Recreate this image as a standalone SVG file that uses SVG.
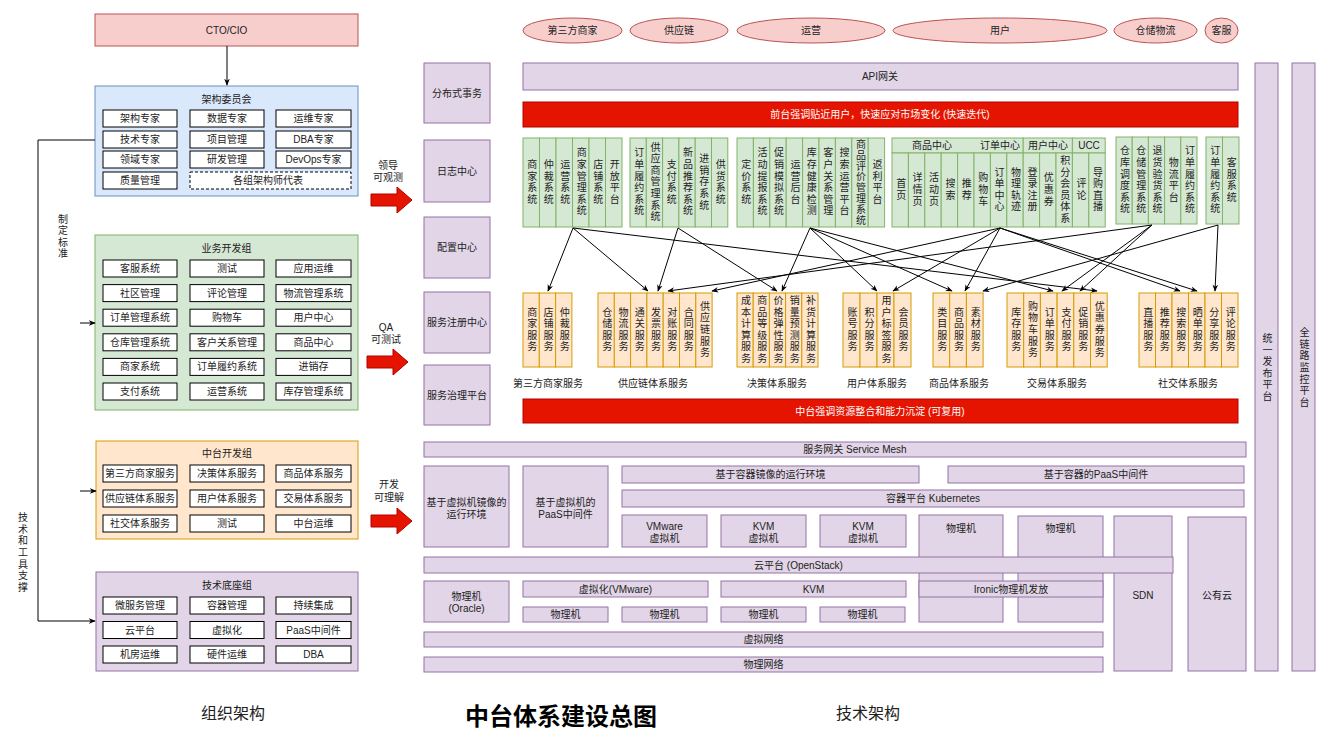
<svg xmlns="http://www.w3.org/2000/svg" width="1333" height="750" viewBox="0 0 1333 750">
<style>
text{font-family:"Liberation Sans","Noto Sans CJK SC",sans-serif;font-size:10px;fill:#222;text-anchor:middle;dominant-baseline:central}
.p{fill:#e1d5e7;stroke:#9673a6}
.g{fill:#d5e8d4;stroke:#82b366}
.o{fill:#ffe6cc;stroke:#d79b00}
.b{fill:#dae8fc;stroke:#6c8ebf}
.r{fill:#f8cecc;stroke:#b85450}
.w{fill:#fff;stroke:#000}
.wd{fill:#fff;stroke:#000;stroke-dasharray:3 2}
.rb{fill:#e51400;stroke:#b20000}
.wt{fill:#fff}
.vt{writing-mode:vertical-rl;letter-spacing:1.6px}
.ln{fill:none;stroke:#000;stroke-width:1}
.big{font-size:16px}
.title{font-size:24px;font-weight:bold;fill:#000}
</style>
<defs>
<marker id="ah" viewBox="0 0 10 10" refX="9" refY="5" markerWidth="7" markerHeight="7" orient="auto-start-reverse" markerUnits="userSpaceOnUse"><path d="M0,1 L10,5 L0,9 L3,5 Z" fill="#000"/></marker>
</defs>

<!-- LEFT: organisation -->
<g id="cto"><rect class="r" x="95" y="14" width="263" height="32"/><text x="226.5" y="30">CTO/CIO</text></g>
<g id="arch-committee">
<rect class="b" x="95" y="86" width="263" height="110"/><text x="226.5" y="99">架构委员会</text>
<rect class="w" x="103" y="110" width="74" height="17"/><text x="140" y="118.5">架构专家</text>
<rect class="w" x="190" y="110" width="74" height="17"/><text x="227" y="118.5">数据专家</text>
<rect class="w" x="276" y="110" width="75" height="17"/><text x="313.5" y="118.5">运维专家</text>
<rect class="w" x="103" y="131" width="74" height="17"/><text x="140" y="139.5">技术专家</text>
<rect class="w" x="190" y="131" width="74" height="17"/><text x="227" y="139.5">项目管理</text>
<rect class="w" x="276" y="131" width="75" height="17"/><text x="313.5" y="139.5">DBA专家</text>
<rect class="w" x="103" y="151" width="74" height="17"/><text x="140" y="159.5">领域专家</text>
<rect class="w" x="190" y="151" width="74" height="17"/><text x="227" y="159.5">研发管理</text>
<rect class="w" x="276" y="151" width="75" height="17"/><text x="313.5" y="159.5">DevOps专家</text>
<rect class="w" x="103" y="172" width="74" height="17"/><text x="140" y="180.5">质量管理</text>
<rect class="wd" x="190" y="172" width="161" height="17"/><text x="268" y="180.5">各组架构师代表</text>
</g>
<g id="biz-dev">
<rect class="g" x="95" y="235" width="263" height="175"/><text x="226.5" y="248">业务开发组</text>
<rect class="w" x="103" y="260" width="74" height="17"/><text x="140" y="268.5">客服系统</text>
<rect class="w" x="190" y="260" width="74" height="17"/><text x="227" y="268.5">测试</text>
<rect class="w" x="276" y="260" width="75" height="17"/><text x="313.5" y="268.5">应用运维</text>
<rect class="w" x="103" y="284.6" width="74" height="17"/><text x="140" y="293.1">社区管理</text>
<rect class="w" x="190" y="284.6" width="74" height="17"/><text x="227" y="293.1">评论管理</text>
<rect class="w" x="276" y="284.6" width="75" height="17"/><text x="313.5" y="293.1">物流管理系统</text>
<rect class="w" x="103" y="309.2" width="74" height="17"/><text x="140" y="317.7">订单管理系统</text>
<rect class="w" x="190" y="309.2" width="74" height="17"/><text x="227" y="317.7">购物车</text>
<rect class="w" x="276" y="309.2" width="75" height="17"/><text x="313.5" y="317.7">用户中心</text>
<rect class="w" x="103" y="333.8" width="74" height="17"/><text x="140" y="342.3">仓库管理系统</text>
<rect class="w" x="190" y="333.8" width="74" height="17"/><text x="227" y="342.3">客户关系管理</text>
<rect class="w" x="276" y="333.8" width="75" height="17"/><text x="313.5" y="342.3">商品中心</text>
<rect class="w" x="103" y="358.4" width="74" height="17"/><text x="140" y="366.9">商家系统</text>
<rect class="w" x="190" y="358.4" width="74" height="17"/><text x="227" y="366.9">订单履约系统</text>
<rect class="w" x="276" y="358.4" width="75" height="17"/><text x="313.5" y="366.9">进销存</text>
<rect class="w" x="103" y="383" width="74" height="17"/><text x="140" y="391.5">支付系统</text>
<rect class="w" x="190" y="383" width="74" height="17"/><text x="227" y="391.5">运营系统</text>
<rect class="w" x="276" y="383" width="75" height="17"/><text x="313.5" y="391.5">库存管理系统</text>
</g>
<g id="mid-dev">
<rect class="o" x="96" y="441" width="262" height="98"/><text x="227" y="453">中台开发组</text>
<rect class="w" x="103" y="465" width="74" height="17"/><text x="140" y="473.5">第三方商家服务</text>
<rect class="w" x="190" y="465" width="74" height="17"/><text x="227" y="473.5">决策体系服务</text>
<rect class="w" x="276" y="465" width="75" height="17"/><text x="313.5" y="473.5">商品体系服务</text>
<rect class="w" x="103" y="490" width="74" height="17"/><text x="140" y="498.5">供应链体系服务</text>
<rect class="w" x="190" y="490" width="74" height="17"/><text x="227" y="498.5">用户体系服务</text>
<rect class="w" x="276" y="490" width="75" height="17"/><text x="313.5" y="498.5">交易体系服务</text>
<rect class="w" x="103" y="515" width="74" height="17"/><text x="140" y="523.5">社交体系服务</text>
<rect class="w" x="190" y="515" width="74" height="17"/><text x="227" y="523.5">测试</text>
<rect class="w" x="276" y="515" width="75" height="17"/><text x="313.5" y="523.5">中台运维</text>
</g>
<g id="tech-base">
<rect class="p" x="96" y="572" width="262" height="99"/><text x="227" y="585">技术底座组</text>
<rect class="w" x="103" y="597" width="74" height="17"/><text x="140" y="605.5">微服务管理</text>
<rect class="w" x="190" y="597" width="74" height="17"/><text x="227" y="605.5">容器管理</text>
<rect class="w" x="276" y="597" width="75" height="17"/><text x="313.5" y="605.5">持续集成</text>
<rect class="w" x="103" y="621.5" width="74" height="17"/><text x="140" y="630">云平台</text>
<rect class="w" x="190" y="621.5" width="74" height="17"/><text x="227" y="630">虚拟化</text>
<rect class="w" x="276" y="621.5" width="75" height="17"/><text x="313.5" y="630">PaaS中间件</text>
<rect class="w" x="103" y="646" width="74" height="17"/><text x="140" y="654.5">机房运维</text>
<rect class="w" x="190" y="646" width="74" height="17"/><text x="227" y="654.5">硬件运维</text>
<rect class="w" x="276" y="646" width="75" height="17"/><text x="313.5" y="654.5">DBA</text>
</g>
<g id="left-labels">
<text class="vt" x="62" y="237">制定标准</text>
<text class="vt" x="22" y="553">技术和工具支撑</text>
</g>

<!-- red block arrows -->
<g id="arrow-observe"><polygon class="rb" points="371,194 397,194 397,187 412,200 397,213 397,206 371,206"/><text x="388" y="165">领导</text><text x="388" y="177">可观测</text></g>
<g id="arrow-test"><polygon class="rb" points="367,356 393,356 393,349 408,362 393,375 393,368 367,368"/><text x="386" y="327">QA</text><text x="386" y="339">可测试</text></g>
<g id="arrow-understand"><polygon class="rb" points="371,515 397,515 397,508 412,521 397,534 397,527 371,527"/><text x="389" y="484">开发</text><text x="389" y="497">可理解</text></g>

<!-- tech column -->
<g id="dist-tx"><rect class="p" x="424" y="63" width="66" height="60"/><text x="457" y="93">分布式事务</text></g>
<g id="log-center"><rect class="p" x="424" y="140" width="66" height="62"/><text x="457" y="171">日志中心</text></g>
<g id="config-center"><rect class="p" x="424" y="217" width="66" height="61"/><text x="457" y="247.5">配置中心</text></g>
<g id="registry"><rect class="p" x="424" y="292" width="66" height="61"/><text x="457" y="322.5">服务注册中心</text></g>
<g id="governance"><rect class="p" x="424" y="365" width="66" height="60"/><text x="457" y="395">服务治理平台</text></g>

<!-- top ellipses -->
<g id="e-merchant"><ellipse class="r" cx="572.5" cy="30.5" rx="49.5" ry="12.5"/><text x="572.5" y="30.5">第三方商家</text></g>
<g id="e-supply"><ellipse class="r" cx="679" cy="30.5" rx="49" ry="12.5"/><text x="679" y="30.5">供应链</text></g>
<g id="e-ops"><ellipse class="r" cx="811" cy="30.5" rx="74" ry="12.5"/><text x="811" y="30.5">运营</text></g>
<g id="e-user"><ellipse class="r" cx="1000" cy="30.5" rx="107" ry="12.5"/><text x="1000" y="30.5">用户</text></g>
<g id="e-logistics"><ellipse class="r" cx="1155.5" cy="30.5" rx="41.5" ry="12.5"/><text x="1155.5" y="30.5">仓储物流</text></g>
<g id="e-cs"><ellipse class="r" cx="1221.5" cy="30.5" rx="16.5" ry="12.5"/><text x="1221.5" y="30.5">客服</text></g>

<g id="api-gw"><rect class="p" x="523" y="63" width="715" height="27"/><text x="880" y="76.5">API网关</text></g>
<g id="front-bar"><rect class="rb" x="523" y="102" width="715" height="25"/><text class="wt" x="880" y="114.5">前台强调贴近用户，快速应对市场变化 (快速迭代)</text></g>

<!-- front systems -->
<g id="sys-merchant">
<rect class="g" x="523" y="138" width="16.5" height="89"/><text class="vt" x="531.25" y="182.5">商家系统</text>
<rect class="g" x="539.5" y="138" width="16.5" height="89"/><text class="vt" x="547.75" y="182.5">仲裁系统</text>
<rect class="g" x="556" y="138" width="16.5" height="89"/><text class="vt" x="564.25" y="182.5">运营系统</text>
<rect class="g" x="572.5" y="138" width="16.5" height="89"/><text class="vt" x="580.75" y="182.5">商家管理系统</text>
<rect class="g" x="589" y="138" width="16.5" height="89"/><text class="vt" x="597.25" y="182.5">店铺系统</text>
<rect class="g" x="605.5" y="138" width="16.5" height="89"/><text class="vt" x="613.75" y="182.5">开放平台</text>
</g>
<g id="sys-supply">
<rect class="g" x="630" y="138" width="16.3" height="89"/><text class="vt" x="638.15" y="182.5">订单履约系统</text>
<rect class="g" x="646.3" y="138" width="16.3" height="89"/><text class="vt" x="654.45" y="182.5">供应商管理系统</text>
<rect class="g" x="662.6" y="138" width="16.3" height="89"/><text class="vt" x="670.75" y="182.5">支付系统</text>
<rect class="g" x="678.9" y="138" width="16.3" height="89"/><text class="vt" x="687.05" y="182.5">新品推荐系统</text>
<rect class="g" x="695.2" y="138" width="16.3" height="89"/><text class="vt" x="703.35" y="182.5">进销存系统</text>
<rect class="g" x="711.5" y="138" width="16.3" height="89"/><text class="vt" x="719.65" y="182.5">供货系统</text>
</g>
<g id="sys-ops">
<rect class="g" x="737" y="138" width="16.4" height="89"/><text class="vt" x="745.2" y="182.5">定价系统</text>
<rect class="g" x="753.4" y="138" width="16.4" height="89"/><text class="vt" x="761.6" y="182.5">活动提报系统</text>
<rect class="g" x="769.8" y="138" width="16.4" height="89"/><text class="vt" x="778" y="182.5">促销模拟系统</text>
<rect class="g" x="786.2" y="138" width="16.4" height="89"/><text class="vt" x="794.4" y="182.5">运营后台</text>
<rect class="g" x="802.6" y="138" width="16.4" height="89"/><text class="vt" x="810.8" y="182.5">库存健康检测</text>
<rect class="g" x="819" y="138" width="16.4" height="89"/><text class="vt" x="827.2" y="182.5">客户关系管理</text>
<rect class="g" x="835.4" y="138" width="16.4" height="89"/><text class="vt" x="843.6" y="182.5">搜索运营平台</text>
<rect class="g" x="851.8" y="138" width="16.4" height="89"/><text class="vt" x="860" y="182.5" style="letter-spacing:0.8px">商品评价管理系统</text>
<rect class="g" x="868.2" y="138" width="16.4" height="89"/><text class="vt" x="876.4" y="182.5">返利平台</text>
</g>
<g id="sys-user">
<rect class="g" x="892" y="138" width="131.2" height="15"/>
<rect class="g" x="1023.2" y="138" width="49.2" height="15"/>
<rect class="g" x="1072.4" y="138" width="32.8" height="15"/>
<text x="932" y="145.5">商品中心</text><text x="1000" y="145.5">订单中心</text><text x="1048" y="145.5">用户中心</text><text x="1089" y="145.5">UCC</text>
<rect class="g" x="892" y="153" width="16.4" height="74"/><text class="vt" x="900.2" y="190">首页</text>
<rect class="g" x="908.4" y="153" width="16.4" height="74"/><text class="vt" x="916.6" y="190">详情页</text>
<rect class="g" x="924.8" y="153" width="16.4" height="74"/><text class="vt" x="933" y="190">活动页</text>
<rect class="g" x="941.2" y="153" width="16.4" height="74"/><text class="vt" x="949.4" y="190">搜索</text>
<rect class="g" x="957.6" y="153" width="16.4" height="74"/><text class="vt" x="965.8" y="190">推荐</text>
<rect class="g" x="974" y="153" width="16.4" height="74"/><text class="vt" x="982.2" y="190">购物车</text>
<rect class="g" x="990.4" y="153" width="16.4" height="74"/><text class="vt" x="998.6" y="190">订单中心</text>
<rect class="g" x="1006.8" y="153" width="16.4" height="74"/><text class="vt" x="1015" y="190">物理轨迹</text>
<rect class="g" x="1023.2" y="153" width="16.4" height="74"/><text class="vt" x="1031.4" y="190">登录注册</text>
<rect class="g" x="1039.6" y="153" width="16.4" height="74"/><text class="vt" x="1047.8" y="190">优惠券</text>
<rect class="g" x="1056" y="153" width="16.4" height="74"/><text class="vt" x="1064.2" y="190">积分会员体系</text>
<rect class="g" x="1072.4" y="153" width="16.4" height="74"/><text class="vt" x="1080.6" y="190">评论</text>
<rect class="g" x="1088.8" y="153" width="16.4" height="74"/><text class="vt" x="1097" y="190">导购直播</text>
</g>
<g id="sys-logistics">
<rect class="g" x="1116" y="137" width="16.2" height="87"/><text class="vt" x="1124.1" y="180.5">仓库调度系统</text>
<rect class="g" x="1132.2" y="137" width="16.2" height="87"/><text class="vt" x="1140.3" y="180.5">仓储管理系统</text>
<rect class="g" x="1148.4" y="137" width="16.2" height="87"/><text class="vt" x="1156.5" y="180.5">退货验货系统</text>
<rect class="g" x="1164.6" y="137" width="16.2" height="87"/><text class="vt" x="1172.7" y="180.5">物流平台</text>
<rect class="g" x="1180.8" y="137" width="16.2" height="87"/><text class="vt" x="1188.9" y="180.5">订单履约系统</text>
</g>
<g id="sys-cs">
<rect class="g" x="1206" y="137" width="16.5" height="87"/><text class="vt" x="1214.25" y="180.5">订单履约系统</text>
<rect class="g" x="1222.5" y="137" width="16.5" height="87"/><text class="vt" x="1230.75" y="180.5">客服系统</text>
</g>

<!-- connectors -->
<g id="connectors" class="ln" marker-end="url(#ah)">
<line x1="573" y1="228" x2="548" y2="291"/>
<line x1="573" y1="228" x2="648" y2="291"/>
<line x1="573" y1="228" x2="1097" y2="291"/>
<line x1="678" y1="228" x2="658" y2="291"/>
<line x1="678" y1="228" x2="777" y2="291"/>
<line x1="810" y1="228" x2="782" y2="291"/>
<line x1="810" y1="228" x2="877" y2="291"/>
<line x1="810" y1="228" x2="952" y2="291"/>
<line x1="810" y1="228" x2="1053" y2="291"/>
<line x1="1000" y1="228" x2="712" y2="291"/>
<line x1="1000" y1="228" x2="893" y2="291"/>
<line x1="1000" y1="228" x2="965" y2="291"/>
<line x1="1000" y1="228" x2="1180" y2="291"/>
<line x1="1000" y1="228" x2="1197" y2="291"/>
<line x1="1152" y1="225" x2="668" y2="291"/>
<line x1="1152" y1="225" x2="1062" y2="291"/>
<line x1="1152" y1="225" x2="1080" y2="291"/>
<line x1="1218" y1="225" x2="983" y2="291"/>
<line x1="1218" y1="225" x2="1215" y2="291"/>
</g>
<g id="org-connectors" class="ln">
<line x1="227" y1="46" x2="227" y2="85" marker-end="url(#ah)"/>
<path d="M95,140 H38 V621 H95" marker-end="url(#ah)"/>
<line x1="80" y1="323" x2="95" y2="323" marker-end="url(#ah)"/>
<line x1="80" y1="491" x2="96" y2="491" marker-end="url(#ah)"/>
</g>

<!-- middle services -->
<g id="svc-merchant">
<rect class="o" x="523" y="293" width="16.3" height="74"/><text class="vt" x="531.15" y="330">商家服务</text>
<rect class="o" x="539.3" y="293" width="16.3" height="74"/><text class="vt" x="547.45" y="330">店铺服务</text>
<rect class="o" x="555.6" y="293" width="16.3" height="74"/><text class="vt" x="563.75" y="330">仲裁服务</text>
<text x="548" y="383">第三方商家服务</text>
</g>
<g id="svc-supply">
<rect class="o" x="598" y="293" width="16.3" height="74"/><text class="vt" x="606.15" y="330">仓储服务</text>
<rect class="o" x="614.3" y="293" width="16.3" height="74"/><text class="vt" x="622.45" y="330">物流服务</text>
<rect class="o" x="630.6" y="293" width="16.3" height="74"/><text class="vt" x="638.75" y="330">通关服务</text>
<rect class="o" x="646.9" y="293" width="16.3" height="74"/><text class="vt" x="655.05" y="330">发票服务</text>
<rect class="o" x="663.2" y="293" width="16.3" height="74"/><text class="vt" x="671.35" y="330">对账服务</text>
<rect class="o" x="679.5" y="293" width="16.3" height="74"/><text class="vt" x="687.65" y="330">合同服务</text>
<rect class="o" x="695.8" y="293" width="16.3" height="74"/><text class="vt" x="703.95" y="330">供应链服务</text>
<text x="653" y="383">供应链体系服务</text>
</g>
<g id="svc-decision">
<rect class="o" x="737" y="293" width="16.2" height="74"/><text class="vt" x="745.1" y="330">成本计算服务</text>
<rect class="o" x="753.2" y="293" width="16.2" height="74"/><text class="vt" x="761.3" y="330">商品等级服务</text>
<rect class="o" x="769.4" y="293" width="16.2" height="74"/><text class="vt" x="777.5" y="330">价格弹性服务</text>
<rect class="o" x="785.6" y="293" width="16.2" height="74"/><text class="vt" x="793.7" y="330">销量预测服务</text>
<rect class="o" x="801.8" y="293" width="16.2" height="74"/><text class="vt" x="809.9" y="330">补货计算服务</text>
<text x="777" y="383">决策体系服务</text>
</g>
<g id="svc-user">
<rect class="o" x="843" y="293" width="17" height="74"/><text class="vt" x="851.5" y="330">账号服务</text>
<rect class="o" x="860" y="293" width="17" height="74"/><text class="vt" x="868.5" y="330">积分服务</text>
<rect class="o" x="877" y="293" width="17" height="74"/><text class="vt" x="885.5" y="330">用户标签服务</text>
<rect class="o" x="894" y="293" width="17" height="74"/><text class="vt" x="902.5" y="330">会员服务</text>
<text x="877" y="383">用户体系服务</text>
</g>
<g id="svc-product">
<rect class="o" x="933" y="293" width="16.7" height="74"/><text class="vt" x="941.35" y="330">类目服务</text>
<rect class="o" x="949.7" y="293" width="16.7" height="74"/><text class="vt" x="958.05" y="330">商品服务</text>
<rect class="o" x="966.4" y="293" width="16.7" height="74"/><text class="vt" x="974.75" y="330">素材服务</text>
<text x="959" y="383">商品体系服务</text>
</g>
<g id="svc-trade">
<rect class="o" x="1007" y="293" width="16.7" height="74"/><text class="vt" x="1015.35" y="330">库存服务</text>
<rect class="o" x="1023.7" y="293" width="16.7" height="74"/><text class="vt" x="1032.05" y="330">购物车服务</text>
<rect class="o" x="1040.4" y="293" width="16.7" height="74"/><text class="vt" x="1048.75" y="330">订单服务</text>
<rect class="o" x="1057.1" y="293" width="16.7" height="74"/><text class="vt" x="1065.45" y="330">支付服务</text>
<rect class="o" x="1073.8" y="293" width="16.7" height="74"/><text class="vt" x="1082.15" y="330">促销服务</text>
<rect class="o" x="1090.5" y="293" width="16.7" height="74"/><text class="vt" x="1098.85" y="330">优惠券服务</text>
<text x="1057" y="383">交易体系服务</text>
</g>
<g id="svc-social">
<rect class="o" x="1139" y="293" width="16.5" height="74"/><text class="vt" x="1147.25" y="330">直播服务</text>
<rect class="o" x="1155.5" y="293" width="16.5" height="74"/><text class="vt" x="1163.75" y="330">推荐服务</text>
<rect class="o" x="1172" y="293" width="16.5" height="74"/><text class="vt" x="1180.25" y="330">搜索服务</text>
<rect class="o" x="1188.5" y="293" width="16.5" height="74"/><text class="vt" x="1196.75" y="330">晒单服务</text>
<rect class="o" x="1205" y="293" width="16.5" height="74"/><text class="vt" x="1213.25" y="330">分享服务</text>
<rect class="o" x="1221.5" y="293" width="16.5" height="74"/><text class="vt" x="1229.75" y="330">评论服务</text>
<text x="1188" y="383">社交体系服务</text>
</g>
<g id="mid-bar"><rect class="rb" x="523" y="399" width="715" height="24"/><text class="wt" x="880" y="411">中台强调资源整合和能力沉淀 (可复用)</text></g>

<!-- infrastructure -->
<g id="mesh"><rect class="p" x="424" y="442" width="822" height="15"/><text x="855" y="449.5">服务网关 Service Mesh</text></g>
<g id="vm-runtime"><rect class="p" x="424" y="466" width="85" height="81"/><text x="466.5" y="502">基于虚拟机镜像的</text><text x="466.5" y="514">运行环境</text></g>
<g id="vm-paas"><rect class="p" x="523" y="466" width="85" height="81"/><text x="565.5" y="502">基于虚拟机的</text><text x="565.5" y="514">PaaS中间件</text></g>
<g id="ctr-runtime"><rect class="p" x="622" y="466" width="297" height="17"/><text x="770.5" y="474.5">基于容器镜像的运行环境</text></g>
<g id="ctr-paas"><rect class="p" x="948" y="466" width="296" height="17"/><text x="1096" y="474.5">基于容器的PaaS中间件</text></g>
<g id="k8s"><rect class="p" x="622" y="490" width="622" height="17"/><text x="933" y="498.5">容器平台 Kubernetes</text></g>
<g id="vmware-vm"><rect class="p" x="622" y="515" width="85" height="32"/><text x="664.5" y="526">VMware</text><text x="664.5" y="538">虚拟机</text></g>
<g id="kvm-vm1"><rect class="p" x="721" y="515" width="85" height="32"/><text x="763.5" y="526">KVM</text><text x="763.5" y="538">虚拟机</text></g>
<g id="kvm-vm2"><rect class="p" x="820" y="515" width="86" height="32"/><text x="863" y="526">KVM</text><text x="863" y="538">虚拟机</text></g>
<g id="pm-tall1"><rect class="p" x="919" y="515" width="84" height="107"/><text x="961" y="528">物理机</text></g>
<g id="pm-tall2"><rect class="p" x="1018" y="516" width="85" height="106"/><text x="1060.5" y="528">物理机</text></g>
<g id="sdn"><rect class="p" x="1114" y="516" width="58" height="155"/><text x="1143" y="595">SDN</text></g>
<g id="public-cloud"><rect class="p" x="1188" y="517" width="58" height="154"/><text x="1217" y="595">公有云</text></g>
<g id="openstack"><rect class="p" x="424" y="557" width="749" height="16"/><text x="798.5" y="565">云平台 (OpenStack)</text></g>
<g id="pm-oracle"><rect class="p" x="424" y="581" width="85" height="41"/><text x="466.5" y="596">物理机</text><text x="466.5" y="608">(Oracle)</text></g>
<g id="virt-vmware"><rect class="p" x="523" y="581" width="185" height="16"/><text x="615.5" y="589">虚拟化(VMware)</text></g>
<g id="kvm"><rect class="p" x="721" y="581" width="185" height="16"/><text x="813.5" y="589">KVM</text></g>
<g id="ironic"><rect class="p" x="919" y="581" width="184" height="16"/><text x="1011" y="589">Ironic物理机发放</text></g>
<g id="pm1"><rect class="p" x="523" y="607" width="85" height="15"/><text x="565.5" y="614.5">物理机</text></g>
<g id="pm2"><rect class="p" x="622" y="607" width="85" height="15"/><text x="664.5" y="614.5">物理机</text></g>
<g id="pm3"><rect class="p" x="721" y="607" width="85" height="15"/><text x="763.5" y="614.5">物理机</text></g>
<g id="pm4"><rect class="p" x="820" y="607" width="85" height="15"/><text x="862.5" y="614.5">物理机</text></g>
<g id="vnet"><rect class="p" x="424" y="632" width="679" height="15"/><text x="763.5" y="639.5">虚拟网络</text></g>
<g id="pnet"><rect class="p" x="424" y="657" width="679" height="15"/><text x="763.5" y="664.5">物理网络</text></g>

<!-- right vertical bars -->
<g id="release-platform"><rect class="p" x="1255" y="63" width="23" height="608"/><text class="vt" x="1266.5" y="368">统一发布平台</text></g>
<g id="monitor-platform"><rect class="p" x="1292" y="63" width="23" height="608"/><text class="vt" x="1303.5" y="368">全链路监控平台</text></g>

<!-- bottom titles -->
<g id="captions">
<text class="big" x="233" y="713">组织架构</text>
<text class="title" x="561" y="716">中台体系建设总图</text>
<text class="big" x="868" y="713">技术架构</text>
</g>
</svg>
